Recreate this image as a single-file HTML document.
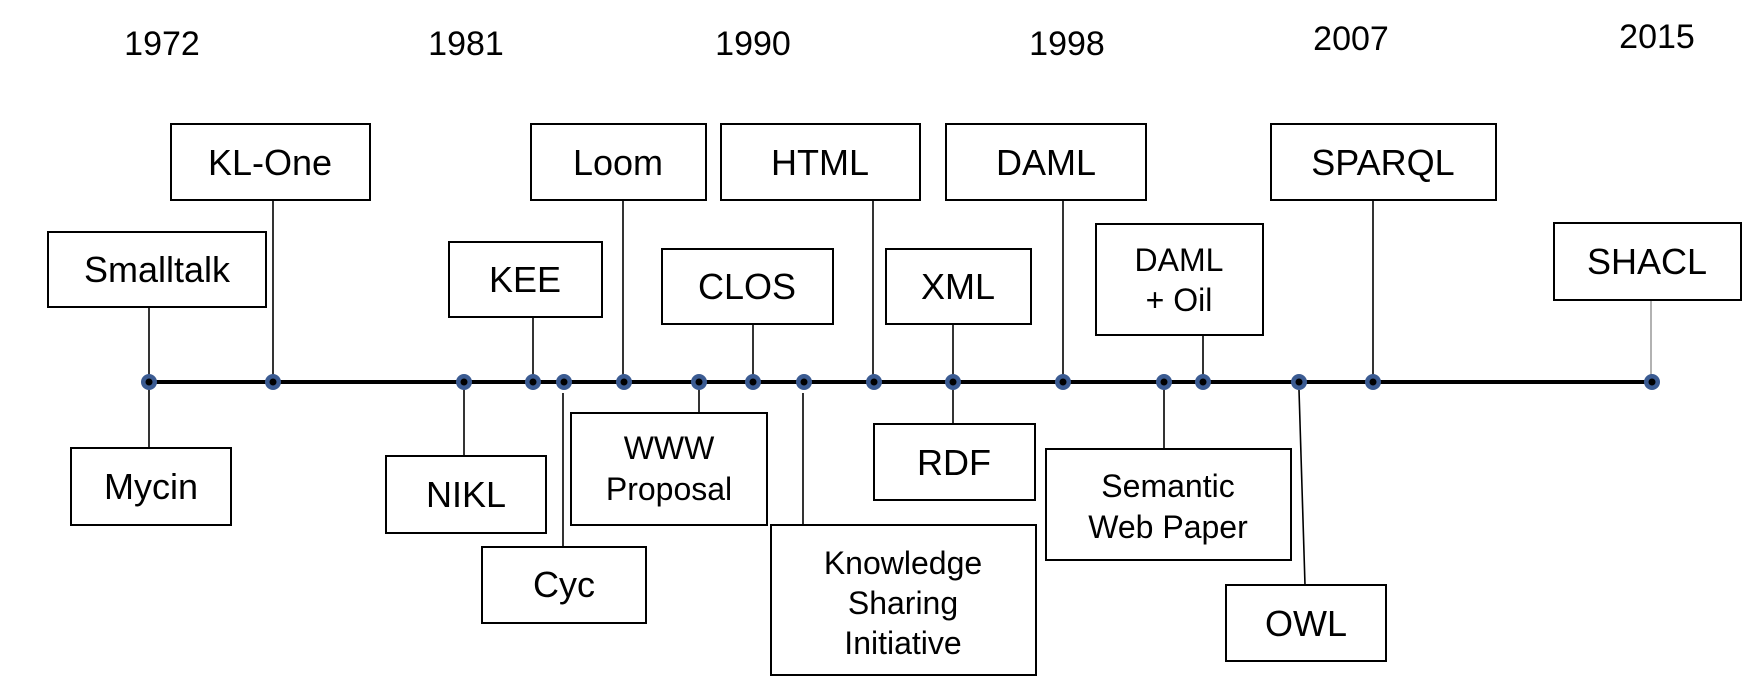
<!DOCTYPE html>
<html><head><meta charset="utf-8"><style>
html,body{margin:0;padding:0;background:#fff;}
svg text{font-family:"Liberation Sans",Arial,sans-serif;fill:#000;}
</style></head><body>
<svg width="1763" height="679" viewBox="0 0 1763 679" xmlns="http://www.w3.org/2000/svg">
<g font-size="34" text-anchor="middle">
<text x="162" y="55">1972</text>
<text x="466" y="55">1981</text>
<text x="753" y="55">1990</text>
<text x="1067" y="55">1998</text>
<text x="1351" y="50">2007</text>
<text x="1657" y="48">2015</text>
</g>
<g stroke="#000" stroke-width="1.6" fill="none">
<line x1="149" y1="307" x2="149" y2="448"/>
<line x1="273" y1="200" x2="273" y2="382"/>
<line x1="464" y1="382" x2="464" y2="456"/>
<line x1="533" y1="317" x2="533" y2="390"/>
<line x1="563" y1="393" x2="563" y2="547"/>
<line x1="623" y1="200" x2="623" y2="382"/>
<line x1="699" y1="382" x2="699" y2="413"/>
<line x1="753" y1="324" x2="753" y2="382"/>
<line x1="803" y1="393" x2="803" y2="525"/>
<line x1="873" y1="200" x2="873" y2="382"/>
<line x1="953" y1="324" x2="953" y2="424"/>
<line x1="1063" y1="200" x2="1063" y2="382"/>
<line x1="1164" y1="382" x2="1164" y2="449"/>
<line x1="1203" y1="335" x2="1203" y2="382"/>
<line x1="1299" y1="390" x2="1305" y2="585"/>
<line x1="1373" y1="200" x2="1373" y2="382"/>
<line x1="1651" y1="300" x2="1651" y2="382" stroke="#666" stroke-width="1"/>
</g>
<line x1="149" y1="382" x2="1652" y2="382" stroke="#000" stroke-width="4"/>
<g fill="#3b5b92">
<circle cx="149" cy="382" r="8"/><circle cx="273" cy="382" r="8"/><circle cx="464" cy="382" r="8"/>
<circle cx="533" cy="382" r="8"/><circle cx="564" cy="382" r="8"/><circle cx="624" cy="382" r="8"/>
<circle cx="699" cy="382" r="8"/><circle cx="753" cy="382" r="8"/><circle cx="804" cy="382" r="8"/>
<circle cx="874" cy="382" r="8"/><circle cx="953" cy="382" r="8"/><circle cx="1063" cy="382" r="8"/>
<circle cx="1164" cy="382" r="8"/><circle cx="1203" cy="382" r="8"/><circle cx="1299" cy="382" r="8"/>
<circle cx="1373" cy="382" r="8"/><circle cx="1652" cy="382" r="8"/>
</g>
<g fill="#000">
<circle cx="149" cy="382" r="3.5"/><circle cx="273" cy="382" r="3.5"/><circle cx="464" cy="382" r="3.5"/>
<circle cx="533" cy="382" r="3.5"/><circle cx="564" cy="382" r="3.5"/><circle cx="624" cy="382" r="3.5"/>
<circle cx="699" cy="382" r="3.5"/><circle cx="753" cy="382" r="3.5"/><circle cx="804" cy="382" r="3.5"/>
<circle cx="874" cy="382" r="3.5"/><circle cx="953" cy="382" r="3.5"/><circle cx="1063" cy="382" r="3.5"/>
<circle cx="1164" cy="382" r="3.5"/><circle cx="1203" cy="382" r="3.5"/><circle cx="1299" cy="382" r="3.5"/>
<circle cx="1373" cy="382" r="3.5"/><circle cx="1652" cy="382" r="3.5"/>
</g>
<g fill="#fff" stroke="#000" stroke-width="2">
<rect x="171" y="124" width="199" height="76"/>
<rect x="48" y="232" width="218" height="75"/>
<rect x="71" y="448" width="160" height="77"/>
<rect x="449" y="242" width="153" height="75"/>
<rect x="386" y="456" width="160" height="77"/>
<rect x="482" y="547" width="164" height="76"/>
<rect x="531" y="124" width="175" height="76"/>
<rect x="571" y="413" width="196" height="112"/>
<rect x="662" y="249" width="171" height="75"/>
<rect x="721" y="124" width="199" height="76"/>
<rect x="771" y="525" width="265" height="150"/>
<rect x="886" y="249" width="145" height="75"/>
<rect x="874" y="424" width="161" height="76"/>
<rect x="946" y="124" width="200" height="76"/>
<rect x="1096" y="224" width="167" height="111"/>
<rect x="1046" y="449" width="245" height="111"/>
<rect x="1226" y="585" width="160" height="76"/>
<rect x="1271" y="124" width="225" height="76"/>
<rect x="1554" y="223" width="187" height="77"/>
</g>
<g font-size="36" text-anchor="middle">
<text x="270" y="175">KL-One</text>
<text x="157" y="282">Smalltalk</text>
<text x="151" y="499">Mycin</text>
<text x="525" y="292">KEE</text>
<text x="466" y="507">NIKL</text>
<text x="564" y="597">Cyc</text>
<text x="618" y="175">Loom</text>
<text x="747" y="299">CLOS</text>
<text x="820" y="175">HTML</text>
<text x="958" y="299">XML</text>
<text x="954" y="475">RDF</text>
<text x="1046" y="175">DAML</text>
<text x="1383" y="175">SPARQL</text>
<text x="1647" y="274">SHACL</text>
<text x="1306" y="636">OWL</text>
</g>
<g font-size="32" text-anchor="middle">
<text x="669" y="459">WWW</text>
<text x="669" y="500">Proposal</text>
<text x="903" y="574">Knowledge</text>
<text x="903" y="614">Sharing</text>
<text x="903" y="654">Initiative</text>
<text x="1179" y="271">DAML</text>
<text x="1179" y="311">+ Oil</text>
<text x="1168" y="497">Semantic</text>
<text x="1168" y="538">Web Paper</text>
</g>
</svg>
</body></html>
